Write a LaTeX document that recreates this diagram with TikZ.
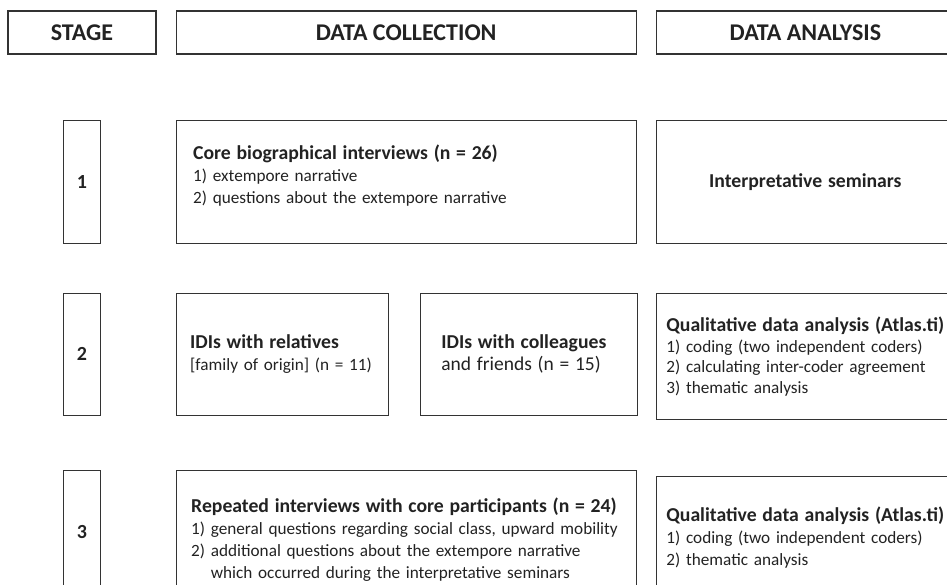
\documentclass[tikz,border=0pt]{standalone}
\usepackage{fontspec}
\setmainfont{Carlito}
\usetikzlibrary{positioning}
\definecolor{boxline}{HTML}{333333}
\definecolor{ink}{HTML}{222222}
\hyphenpenalty=10000
\tikzstyle{header} = [rectangle, minimum height=43pt, inner sep=0pt, text centered, draw=boxline, line width=1.2pt, text=ink, font=\fontsize{24}{28}\selectfont\bfseries]
\tikzstyle{stagebox} = [rectangle, minimum width=37pt, minimum height=123pt, inner sep=0pt, text centered, draw=boxline, line width=1.2pt, text=ink, font=\fontsize{20}{24}\selectfont\bfseries]
\tikzstyle{content} = [rectangle, minimum height=123pt, inner xsep=17pt, inner ysep=0pt, align=left, draw=boxline, line width=1.2pt, text=ink, font=\fontsize{17.2}{22}\selectfont]
\newcommand{\boxtitle}[1]{{\fontsize{19.7}{22}\selectfont\bfseries #1}}

\begin{document}
\begin{tikzpicture}[x=1pt, y=-1pt]
\useasboundingbox (0,0) rectangle (947,585);
\clip (0,0) rectangle (947,585);
% header row
\node (stagehdr) [header, minimum width=148pt] at (82,32.5) {STAGE};
\node (collhdr) [header, minimum width=460pt, right=19pt of stagehdr] {DATA COLLECTION};
\node (anahdr) [header, minimum width=298pt, right=19pt of collhdr] {DATA ANALYSIS};

% stage 1
\node (s1) [stagebox, below=65pt of stagehdr] {1};
\node (core) [content, text width=426pt, below=65pt of collhdr] {\boxtitle{Core biographical interviews (n = 26)}\\ 1) extempore narrative\\ 2) questions about the extempore narrative\\[-6pt] \mbox{}};
\node (interp) [content, text width=264pt, align=center, below=65pt of anahdr] {\boxtitle{Interpretative seminars}};

% stage 2
\node (s2) [stagebox, minimum height=122pt, below=49pt of s1] {2};
\node (rel) [content, minimum height=122pt, inner xsep=14pt, text width=184pt, below right=49pt and 0pt of core.south west] {\boxtitle{IDIs with relatives}\\ {[}family of origin{]} (n = 11)};
\node (coll) [content, minimum height=122pt, inner xsep=21pt, text width=175pt, right=31pt of rel] {\boxtitle{IDIs with colleagues}\\ {\fontsize{19.5}{22}\selectfont and friends (n = 15)}};
\node (qual2) [content, minimum height=126pt, inner xsep=10pt, text width=278pt, below=49pt of interp, font=\fontsize{17.2}{20.6}\selectfont] {\boxtitle{Qualitative data analysis (Atlas.ti)}\\ 1) coding (two independent coders)\\ 2) calculating inter-coder agreement\\ 3) thematic analysis};

% stage 3
\node (s3) [stagebox, minimum height=122pt, below=54pt of s2] {3};
\node (rep) [content, minimum height=138pt, inner xsep=15pt, text width=430pt, below right=54pt and 0pt of rel.south west] {\boxtitle{Repeated interviews with core participants (n = 24)}\\ 1) general questions regarding social class, upward mobility\\ 2) additional questions about the extempore narrative\\ \phantom{2) }which occurred during the interpretative seminars};
\node (qual3) [content, minimum height=122pt, inner xsep=10pt, text width=278pt, below=56pt of qual2] {\boxtitle{Qualitative data analysis (Atlas.ti)}\\ 1) coding (two independent coders)\\ 2) thematic analysis};
\end{tikzpicture}
\end{document}
